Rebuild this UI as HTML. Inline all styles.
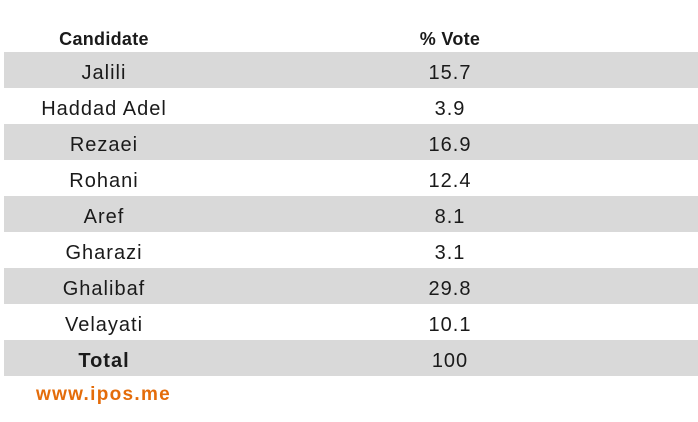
<!DOCTYPE html>
<html><head><meta charset="utf-8"><style>
body{margin:0;width:698px;height:422px;background:#fff;font-family:"Liberation Sans",sans-serif;position:relative;overflow:hidden}
.row{position:absolute;left:4px;width:694px;height:36px;font-size:20px;color:#1a1a1a;letter-spacing:1px}
.row.g{background:#d9d9d9}
.c1,.c2{position:absolute;top:3px;line-height:36px;text-align:center}
.c1{left:0;width:200px}
.c2{left:346px;width:200px}
.h{font-weight:bold;font-size:18px;letter-spacing:0.3px}
#src{position:absolute;left:36px;top:384px;font-size:19px;color:#e46c0a;font-weight:bold;letter-spacing:1.3px}
</style></head><body>
<div>
<div class="row h" style="top:18px"><div class="c1">Candidate</div><div class="c2">% Vote</div></div>
<div class="row g" style="top:52px"><div class="c1">Jalili</div><div class="c2">15.7</div></div>
<div class="row" style="top:88px"><div class="c1">Haddad Adel</div><div class="c2">3.9</div></div>
<div class="row g" style="top:124px"><div class="c1">Rezaei</div><div class="c2">16.9</div></div>
<div class="row" style="top:160px"><div class="c1">Rohani</div><div class="c2">12.4</div></div>
<div class="row g" style="top:196px"><div class="c1">Aref</div><div class="c2">8.1</div></div>
<div class="row" style="top:232px"><div class="c1">Gharazi</div><div class="c2">3.1</div></div>
<div class="row g" style="top:268px"><div class="c1">Ghalibaf</div><div class="c2">29.8</div></div>
<div class="row" style="top:304px"><div class="c1">Velayati</div><div class="c2">10.1</div></div>
<div class="row g" style="top:340px"><div class="c1" style="font-weight:bold">Total</div><div class="c2">100</div></div>
</div>
<div id="src">www.ipos.me</div>
</body></html>
